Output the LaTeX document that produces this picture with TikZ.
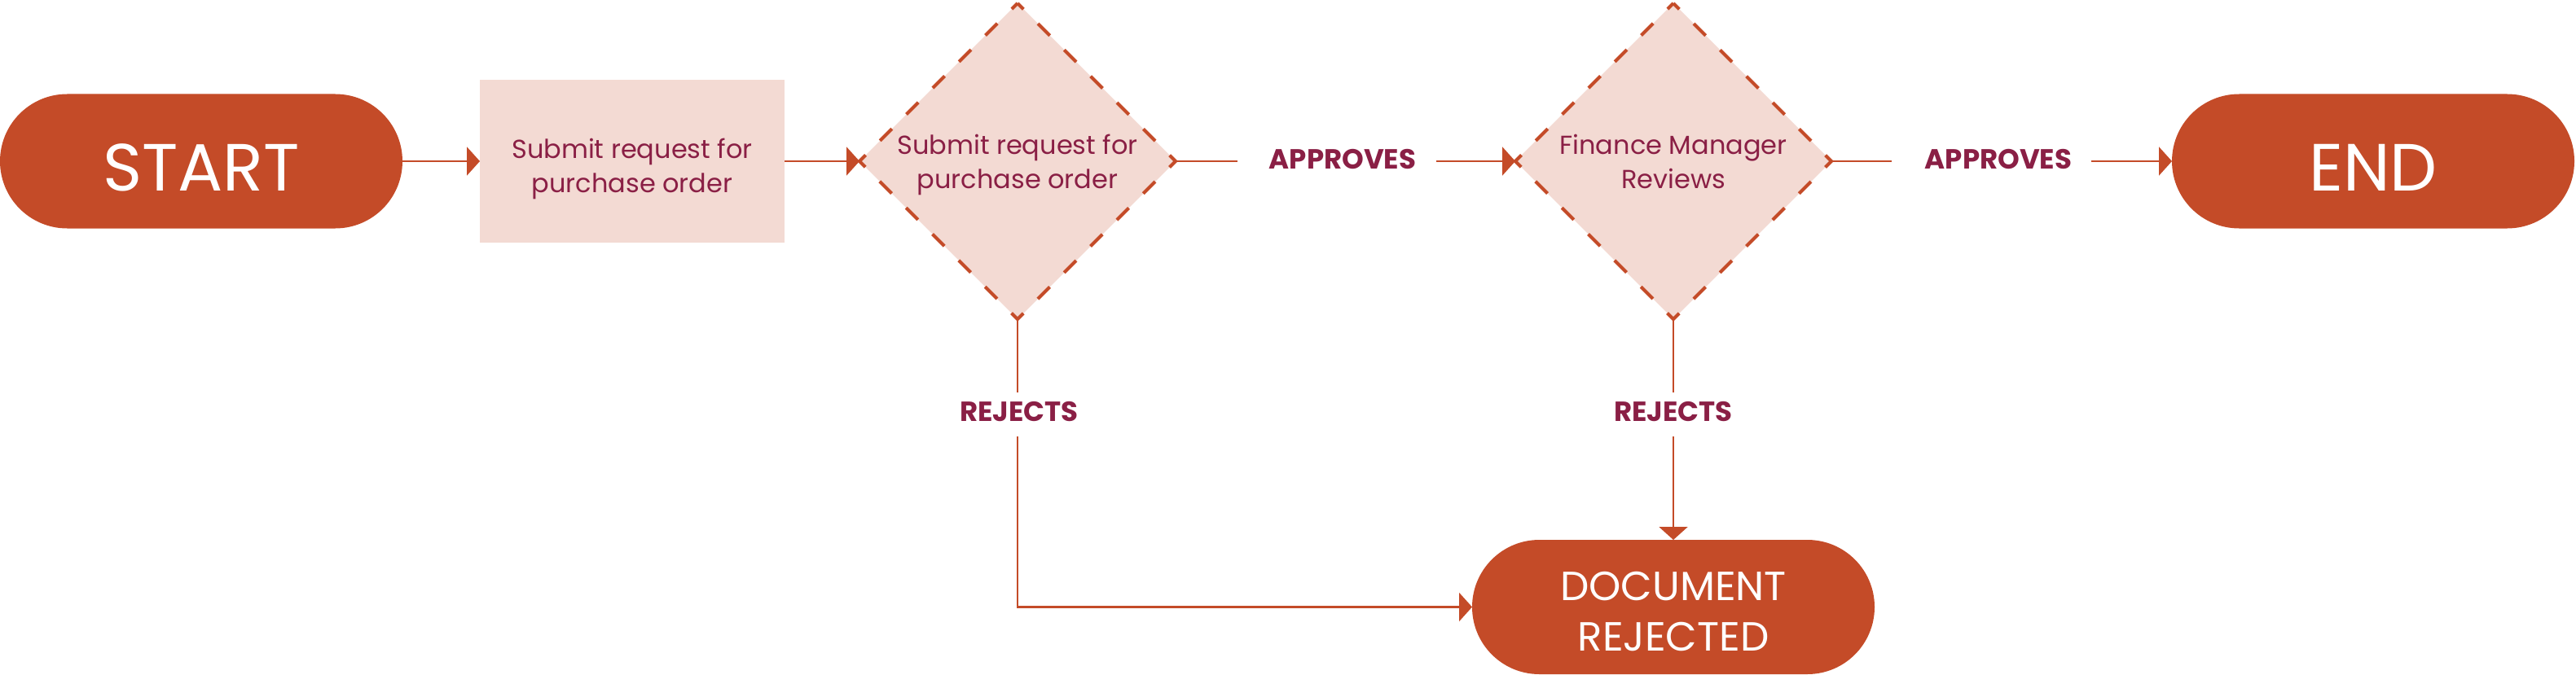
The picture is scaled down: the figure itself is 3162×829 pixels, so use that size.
\documentclass[tikz,border=0pt]{standalone}
\usepackage{fontspec}
\setmainfont{Poppins}
\usetikzlibrary{arrows.meta,shapes.geometric,shapes.misc}
\definecolor{rust}{RGB}{196,75,40}
\definecolor{blush}{RGB}{243,218,211}
\definecolor{wine}{RGB}{138,31,69}
\begin{document}
\begin{tikzpicture}[x=0.5pt,y=-0.5pt,
  termbase/.style={rounded rectangle, fill=rust, text=white, minimum width=247pt,
    minimum height=82.5pt, inner sep=0pt, outer sep=0pt},
  term/.style={termbase, font=\fontsize{41}{48}\selectfont, text height=36pt, text depth=0pt},
  docterm/.style={termbase, font=\fontsize{25}{31}\selectfont, align=center},
  procbox/.style={rectangle, fill=blush, minimum width=187pt, minimum height=100pt,
    inner sep=0pt, outer sep=0pt, text=wine, align=center, font=\fontsize{16}{21}\selectfont},
  decision/.style={diamond, aspect=1, fill=blush, minimum width=194pt, minimum height=194pt,
    inner sep=0pt, outer sep=0pt, text=wine, align=center, font=\fontsize{16}{21}\selectfont},
  lbl/.style={inner sep=0pt, outer sep=0pt, text=wine, font=\bfseries\fontsize{17}{20}\selectfont},
  conn/.style={draw=rust, line width=1.25pt},
  arr/.style={-{Triangle[length=8pt,width=17.5pt]}},
  dashedge/.style={draw=rust, line width=2pt, dash pattern=on 10.37pt off 12.5pt, dash phase=5.18pt, line join=miter}
]
\useasboundingbox (0,0) rectangle (3162,829);

\node[term] (start) at (247,198) {START};
\node[procbox] (req) at (776,198) {\rule{0pt}{22pt}Submit request for\\purchase order};
\node[decision] (d1) at (1249,198) {\rule{0pt}{17pt}Submit request for\\purchase order};
\node[decision] (d2) at (2054,198) {Finance Manager\\Reviews};
\node[term] (end) at (2913,198) {END};
\node[docterm] (doc) at (2054,745.5) {\rule{0pt}{23pt}DOCUMENT\\REJECTED};

\node[lbl] (a1) at (1648,196) {APPROVES};
\node[lbl] (a2) at (2453,196) {APPROVES};
\node[lbl] (r1) at (1251,506) {REJECTS};
\node[lbl] (r2) at (2054,506) {REJECTS};

\draw[dashedge] (d1.north) -- (d1.east) -- (d1.south) -- (d1.west) -- cycle;
\draw[dashedge] (d2.north) -- (d2.east) -- (d2.south) -- (d2.west) -- cycle;

\draw[conn, arr] (start.east) -- (req.west);
\draw[conn, arr] (req.east) -- (d1.west);
\draw[conn, shorten >=19.5pt] (d1.east) -- (d1.east -| a1.west);
\draw[conn, arr, shorten <=12.5pt] (a1.east |- d2.west) -- (d2.west);
\draw[conn, shorten >=20.5pt] (d2.east) -- (d2.east -| a2.west);
\draw[conn, arr, shorten <=12pt] (a2.east |- end.west) -- (end.west);
\draw[conn, shorten >=6pt] (d1.south) -- (d1.south |- r1.north);
\draw[conn, arr, shorten <=9pt] (d1.south |- r1.south) -- (d1.south |- doc.west) -- (doc.west);
\draw[conn, shorten >=6pt] (d2.south) -- (d2.south |- r2.north);
\draw[conn, arr, shorten <=9pt] (doc.north |- r2.south) -- (doc.north);
\end{tikzpicture}
\end{document}
